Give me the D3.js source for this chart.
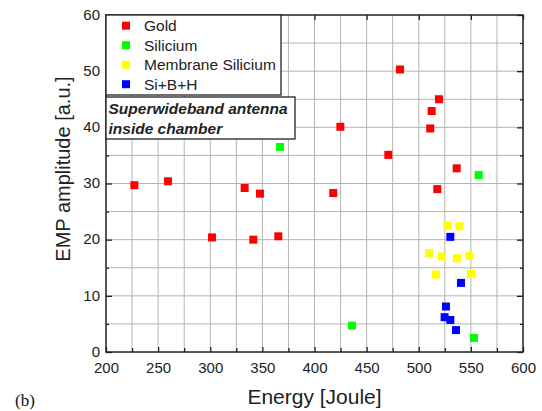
<!DOCTYPE html>
<html>
<head>
<meta charset="utf-8">
<script src="https://cdn.jsdelivr.net/npm/d3@7"></script>
<style>
	html, body { margin: 0; padding: 0; background: white; }
	svg { display: block; font-family: 'Liberation Sans', Arial, sans-serif; }
</style>
</head>
<body>
<div id="chart"></div>
<script>
'use strict';

////////// Data //////////
// [energy (Joule), EMP amplitude (a.u.)]
const goldPoints = [
	[227.2, 29.7], [259.5, 30.4], [301.7, 20.4], [333, 29.2], [341.3, 20.0], [347.7, 28.2],
	[365.3, 20.6], [418, 28.3], [424.8, 40.1], [470.8, 35.1], [482, 50.3], [511, 39.8],
	[512.4, 42.9], [517.8, 29.0], [519.4, 45.0], [536.4, 32.7]
];
const siliciumPoints = [[367, 36.5], [436, 4.7], [553, 2.5], [557.5, 31.5]];
const membranePoints = [
	[527.5, 22.5], [539, 22.4], [509.8, 17.6], [522.3, 17.0],
	[536.7, 16.7], [548.5, 17.1], [516.5, 13.8], [550.1, 13.9]
];
const sibhPoints = [[530.3, 20.5], [540.5, 12.3], [526.1, 8.1], [524.8, 6.2], [530.3, 5.7], [535.7, 3.9]];

const seriesNames = ['Gold', 'Silicium', 'Membrane Silicium', 'Si+B+H'];
const seriesColors = ['#ff0000', '#00ff00', '#ffff00', '#0000ff'];
const xTicks = [200, 250, 300, 350, 400, 450, 500, 550, 600];
const yTicks = [0, 10, 20, 30, 40, 50, 60];
const noteLines = ['Superwideband antenna', 'inside chamber'];


////////////////////////////////////////////////////////////////
	// Sizing
////////////////////////////////////////////////////////////////
const width = 542, height = 411;
const margin = { top: 15, right: 19, bottom: 59, left: 106 };
const plotW = width - margin.left - margin.right;
const plotH = height - margin.top - margin.bottom;
const markerSize = 8;
const tickFont = '15px "Liberation Sans", Arial, sans-serif';
const legendFont = '15.5px "Liberation Sans", Arial, sans-serif';
const gridColor = '#b4b4b4';

const x = d3.scaleLinear().domain([200, 600]).range([0, plotW]);
const y = d3.scaleLinear().domain([0, 60]).range([plotH, 0]);

const svg = d3.select('#chart').append('svg')
	.attr('width', width)
	.attr('height', height);

const g = svg.append('g')
	.attr('transform', `translate(${margin.left}, ${margin.top})`);


////////////////////////////////////////////////////////////////
	// Grid
////////////////////////////////////////////////////////////////
g.append('g').attr('class', 'xGrid')
	.selectAll('line')
	.data(d3.range(225, 600, 25))
	.enter().append('line')
		.attr('x1', d => x(d)).attr('x2', d => x(d))
		.attr('y1', 0).attr('y2', plotH)
		.attr('stroke', gridColor);

g.append('g').attr('class', 'yGrid')
	.selectAll('line')
	.data(d3.range(5, 60, 5))
	.enter().append('line')
		.attr('y1', d => y(d)).attr('y2', d => y(d))
		.attr('x1', 0).attr('x2', plotW)
		.attr('stroke', gridColor);


////////////////////////////////////////////////////////////////
	// Axes (ticks point inward, like the original)
////////////////////////////////////////////////////////////////
const styleAxis = sel => {
	sel.select('.domain').remove();
	sel.selectAll('line').attr('stroke', '#222').attr('stroke-width', 1.3);
	sel.selectAll('text').style('font', tickFont).attr('fill', '#222');
};

// minor ticks
g.append('g').attr('transform', `translate(0, ${plotH})`)
	.call(d3.axisBottom(x).tickValues(d3.range(225, 600, 50)).tickSize(-4).tickFormat(''))
	.call(styleAxis);
g.append('g')
	.call(d3.axisLeft(y).tickValues(d3.range(5, 60, 10)).tickSize(-3).tickFormat(''))
	.call(styleAxis);
g.append('g').attr('transform', `translate(${plotW}, 0)`)
	.call(d3.axisRight(y).tickValues(d3.range(5, 60, 10)).tickSize(-3).tickFormat(''))
	.call(styleAxis);

// major ticks with labels
g.append('g').attr('transform', `translate(0, ${plotH})`)
	.call(d3.axisBottom(x).tickValues(xTicks).tickSizeInner(-5).tickSizeOuter(0).tickPadding(10))
	.call(styleAxis);
g.append('g')
	.call(d3.axisLeft(y).tickValues(yTicks).tickSizeInner(-6).tickSizeOuter(0).tickPadding(6))
	.call(styleAxis)
	.selectAll('text').attr('dy', '0.28em');
g.append('g').attr('transform', `translate(${plotW}, 0)`)
	.call(d3.axisRight(y).tickValues(yTicks).tickSizeInner(-6).tickSizeOuter(0).tickFormat(''))
	.call(styleAxis);
g.append('g')
	.call(d3.axisTop(x).tickValues(xTicks).tickSizeInner(-5).tickSizeOuter(0).tickFormat(''))
	.call(styleAxis);

// frame
g.append('rect')
	.attr('width', plotW).attr('height', plotH)
	.attr('fill', 'none')
	.attr('stroke', '#222')
	.attr('stroke-width', 1.5);


////////////////////////////////////////////////////////////////
	// Markers
////////////////////////////////////////////////////////////////
const allSeries = [goldPoints, siliciumPoints, membranePoints, sibhPoints];

allSeries.forEach((pts, i) => {
	g.append('g').attr('class', `series s${i}`)
		.selectAll('rect')
		.data(pts)
		.enter().append('rect')
			.attr('x', d => x(d[0]) - markerSize / 2)
			.attr('y', d => y(d[1]) - markerSize / 2)
			.attr('width', markerSize)
			.attr('height', markerSize)
			.attr('fill', seriesColors[i]);
});


////////////////////////////////////////////////////////////////
	// Legend + note box
////////////////////////////////////////////////////////////////
const legend = g.append('g').attr('class', 'legend');
legend.append('rect')
	.attr('x', 0).attr('y', 0)
	.attr('width', 175).attr('height', 80)
	.attr('fill', 'white')
	.attr('stroke', '#222')
	.attr('stroke-width', 1.3);

const legendRows = legend.selectAll('.legendRow')
	.data(seriesNames)
	.enter().append('g')
		.attr('class', 'legendRow')
		.attr('transform', (d, i) => `translate(0, ${10.7 + i * 19.5})`);
legendRows.append('rect')
	.attr('x', 20 - markerSize / 2).attr('y', -markerSize / 2)
	.attr('width', markerSize).attr('height', markerSize)
	.attr('fill', (d, i) => seriesColors[i]);
legendRows.append('text')
	.attr('x', 38)
	.attr('dy', '0.35em')
	.style('font', legendFont)
	.attr('fill', '#222')
	.text(d => d);

const note = g.append('g').attr('class', 'note').attr('transform', 'translate(0, 82)');
note.append('rect')
	.attr('width', 189).attr('height', 42)
	.attr('fill', 'white')
	.attr('stroke', '#222')
	.attr('stroke-width', 1.3);
note.selectAll('text')
	.data(noteLines)
	.enter().append('text')
		.attr('x', 2.5)
		.attr('y', (d, i) => 17 + i * 20)
		.style('font', 'italic bold 15.5px "Liberation Sans", Arial, sans-serif')
		.attr('fill', '#222')
		.text(d => d);


////////////////////////////////////////////////////////////////
	// Titles
////////////////////////////////////////////////////////////////
svg.append('text')
	.attr('x', margin.left + plotW / 2)
	.attr('y', 404)
	.attr('text-anchor', 'middle')
	.style('font', '21px "Liberation Sans", Arial, sans-serif')
	.attr('fill', '#222')
	.text('Energy [Joule]');

svg.append('text')
	.attr('transform', 'translate(70, 169) rotate(-90)')
	.attr('text-anchor', 'middle')
	.style('font', '20px "Liberation Sans", Arial, sans-serif')
	.attr('fill', '#222')
	.text('EMP amplitude [a.u.]');

// panel label, sitting at the bottom-left corner
svg.append('text')
	.attr('x', 15)
	.attr('y', 406)
	.style('font', '17px "Liberation Serif", "Times New Roman", serif')
	.attr('fill', '#111')
	.text('(b)');
</script>
</body>
</html>
